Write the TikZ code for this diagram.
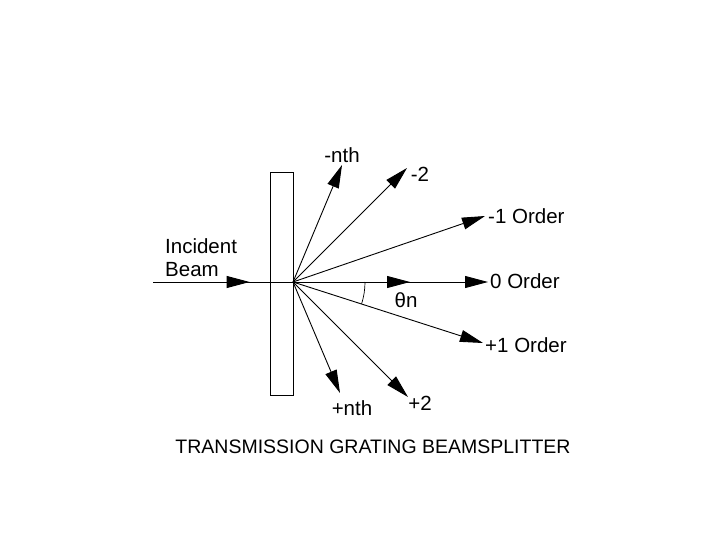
\documentclass[tikz,border=0pt]{standalone}
\usepackage{fontspec}
\setmainfont{Liberation Sans}
\usetikzlibrary{arrows.meta,decorations.markings}
\begin{document}
\begin{tikzpicture}[x=1pt,y=-1pt,
  ray/.style={line width=0.9pt,-{Triangle[length=23pt,width=12pt]}},
  lbl/.style={font=\fontsize{20.5}{22}\selectfont,inner sep=0pt},
  midarrow/.style={postaction={decorate},decoration={markings,
    mark=at position #1 with {\arrow{Triangle[length=23pt,width=12pt]}}}}]
\useasboundingbox[fill=white] (0,0) rectangle (720,540);
% grating
\node[draw,line width=0.9pt,minimum width=23pt,minimum height=223pt,inner sep=0pt,anchor=north west] (grating) at (270,172) {};
\coordinate (O) at (293,282);
\coordinate (src) at (153,282);
% end points
\coordinate (mnth) at (342,165);
\coordinate (m2) at (407,168);
\coordinate (m1) at (485,216);
\coordinate (z0) at (488,282);
\coordinate (p1) at (483,343);
\coordinate (p2) at (408,397);
\coordinate (pnth) at (340,393);
% incident beam
\draw[line width=0.9pt,midarrow=0.69] (src) -- (O);
% rays
\draw[ray] (O) -- (mnth);
\draw[ray] (O) -- (m2);
\draw[ray] (O) -- (m1);
\draw[ray,midarrow=0.60] (O) -- (z0);
\draw[ray] (O) -- (p1);
\draw[ray] (O) -- (p2);
\draw[ray] (O) -- (pnth);
% angle
\draw[line width=0.7pt] ([shift={(72,0)}]O) arc[start angle=0,end angle=17.8,radius=72];
% labels
\node[lbl] (lmnth) at (342,155) {-nth};
\node[lbl] (lm2) at (420,174) {-2};
\node[lbl,anchor=west] (lm1) at (488,216) {-1 Order};
\node[lbl,anchor=west] (lz0) at (490,281) {0 Order};
\node[lbl,anchor=west] (lp1) at (485,345) {+1 Order};
\node[lbl] (lp2) at (420,403) {+2};
\node[lbl] (lpnth) at (352,408) {+nth};
\node[lbl] (theta) at (406,300) {θn};
\node[lbl,anchor=west] (inc1) at (165,246) {Incident};
\node[lbl,anchor=west] (inc2) at (165,270) {Beam};
\node[lbl,font=\fontsize{19.5}{21}\selectfont] (title) at (373,447) {TRANSMISSION GRATING BEAMSPLITTER};
\end{tikzpicture}
\end{document}
